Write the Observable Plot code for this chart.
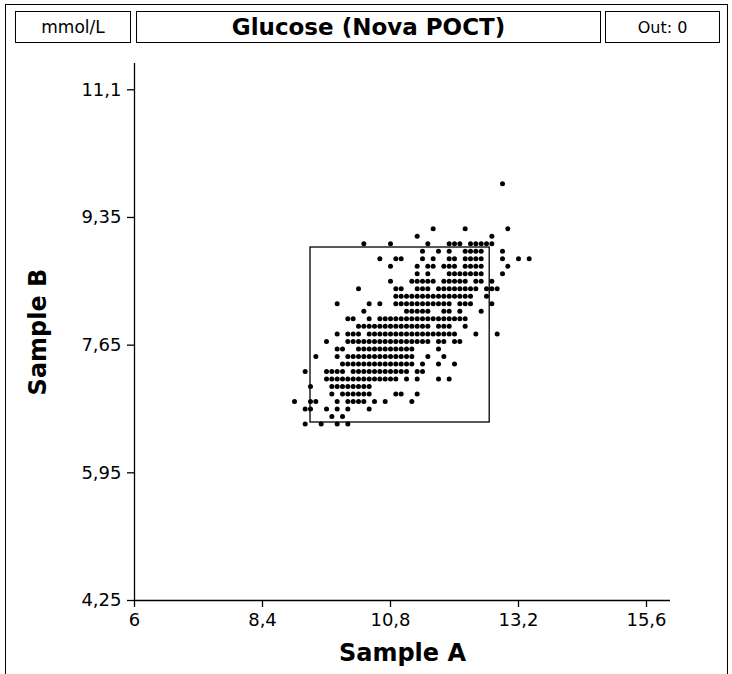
<!DOCTYPE html>
<html><head><meta charset="utf-8">
<script src="https://cdn.jsdelivr.net/npm/d3@7"></script>
<script src="https://cdn.jsdelivr.net/npm/@observablehq/plot@0.6"></script>
<style>
body{margin:0;background:#fff;font-family:"DejaVu Sans",sans-serif;}
#wrap{position:relative;width:732px;height:674px;overflow:hidden;background:#fff;}
#frame{position:absolute;left:5px;top:4px;width:721px;height:720px;border:1px solid #000;border-bottom:none;}
.box{position:absolute;top:11px;height:32px;border:1px solid #000;display:flex;align-items:center;justify-content:center;box-sizing:border-box;background:#fff;color:#000;}
#chart{position:absolute;left:0;top:0;}
</style></head><body>
<div id="wrap">
<div id="frame"></div>
<div class="box" style="left:15px;width:116px;font-size:17px">mmol/L</div>
<div class="box" style="left:136px;width:465px;font-size:23px;font-weight:bold">Glucose (Nova POCT)</div>
<div class="box" style="left:605px;width:115px;font-size:16px">Out: 0</div>
<div id="chart"></div>
</div>
<script>
// Tick values and labels
const xTicks = [6, 8.4, 10.8, 13.2, 15.6];
const xTickLabels = ["6", "8,4", "10,8", "13,2", "15,6"];
const yTicks = [4.25, 5.95, 7.65, 9.35, 11.05];
const yTickLabels = ["4,25", "5,95", "7,65", "9,35", "11,1"];

// Sample B value of each row of points
const rowY = [9.8, 9.2, 9.1, 9.0, 8.9, 8.8, 8.7, 8.6, 8.5, 8.4, 8.3, 8.2, 8.1, 8.0,
              7.9, 7.8, 7.7, 7.6, 7.5, 7.4, 7.3, 7.2, 7.1, 7.0, 6.9, 6.8, 6.7, 6.6];
// Sample A values in each row
const rowX = [
  [12.9],
  [11.6, 12.2, 13.0],
  [11.3, 12.7],
  [10.3, 10.8, 11.5, 11.9, 12.0, 12.1, 12.3, 12.4, 12.5, 12.6, 12.7],
  [11.4, 11.7, 11.9, 12.2, 12.3, 12.4, 12.5, 12.9],
  [10.6, 10.9, 11.0, 11.4, 11.6, 11.9, 12.0, 12.2, 12.3, 12.4, 12.5, 12.9, 13.2, 13.4],
  [10.8, 11.3, 11.5, 11.6, 11.8, 11.9, 12.0, 12.2, 12.3, 12.4, 12.5, 13.0],
  [11.3, 11.5, 11.9, 12.0, 12.1, 12.2, 12.3, 12.4, 12.5, 12.9],
  [10.8, 11.2, 11.3, 11.4, 11.5, 11.6, 11.8, 11.9, 12.0, 12.1, 12.2, 12.4, 12.5, 12.7],
  [10.2, 10.9, 11.0, 11.3, 11.4, 11.5, 11.7, 11.8, 11.9, 12.0, 12.1, 12.2, 12.3, 12.4, 12.6, 12.7, 12.8],
  [10.9, 11.0, 11.1, 11.2, 11.3, 11.4, 11.5, 11.6, 11.7, 11.8, 11.9, 12.0, 12.1, 12.2, 12.3, 12.6],
  [9.8, 10.4, 10.6, 10.9, 11.0, 11.1, 11.2, 11.3, 11.4, 11.5, 11.6, 11.7, 11.8, 11.9, 12.1, 12.2, 12.3, 12.7],
  [10.3, 11.1, 11.2, 11.3, 11.4, 11.5, 11.8, 11.9, 12.1, 12.5],
  [10.0, 10.1, 10.4, 10.6, 10.7, 10.8, 10.9, 11.0, 11.1, 11.2, 11.3, 11.4, 11.5, 11.6, 11.7, 11.8, 11.9, 12.0, 12.1, 12.2],
  [10.2, 10.3, 10.4, 10.5, 10.6, 10.7, 10.8, 10.9, 11.0, 11.1, 11.2, 11.3, 11.4, 11.5, 11.7, 11.8, 11.9, 12.2],
  [9.8, 10.0, 10.1, 10.2, 10.4, 10.5, 10.6, 10.7, 10.8, 10.9, 11.0, 11.1, 11.2, 11.3, 11.4, 11.5, 11.6, 11.7, 11.8, 11.9, 12.0, 12.4, 12.8],
  [9.6, 10.0, 10.1, 10.2, 10.3, 10.4, 10.5, 10.6, 10.7, 10.8, 10.9, 11.0, 11.1, 11.2, 11.3, 11.4, 11.5, 11.7, 11.8, 12.0, 12.1],
  [9.8, 9.9, 10.2, 10.3, 10.4, 10.5, 10.6, 10.7, 10.8, 10.9, 11.0, 11.1, 11.2, 11.7],
  [9.4, 9.8, 10.0, 10.1, 10.2, 10.3, 10.4, 10.5, 10.6, 10.7, 10.8, 10.9, 11.0, 11.1, 11.2, 11.5, 11.8],
  [9.9, 10.0, 10.1, 10.2, 10.3, 10.4, 10.5, 10.6, 10.7, 10.8, 10.9, 11.0, 11.1, 11.2, 11.4, 11.7, 12.0],
  [9.2, 9.6, 9.7, 9.8, 9.9, 10.1, 10.2, 10.3, 10.4, 10.5, 10.6, 10.7, 10.8, 10.9, 11.0, 11.1, 11.3, 11.4],
  [9.6, 9.7, 9.8, 9.9, 10.0, 10.1, 10.2, 10.3, 10.4, 10.5, 10.6, 10.7, 10.8, 10.9, 11.1, 11.3, 11.7, 11.9],
  [9.3, 9.7, 9.8, 9.9, 10.0, 10.1, 10.2, 10.3, 10.4],
  [9.7, 9.9, 10.0, 10.1, 10.2, 10.3, 10.4, 10.9, 11.0, 11.3],
  [9.0, 9.3, 9.4, 9.8, 10.0, 10.1, 10.2, 10.3, 10.5, 10.7, 11.2],
  [9.2, 9.3, 9.6, 9.8, 10.0, 10.4],
  [9.7, 9.9],
  [9.2, 9.5, 9.8, 10.0]
];
// Reference box (Sample A range, Sample B range)
const boxX = [9.3, 12.66];
const boxY = [6.62, 8.95];

const points = rowY.flatMap((y, i) => rowX[i].map(x => ({x, y})));
const xLab = new Map(xTicks.map((t, i) => [t, xTickLabels[i]]));
const yLab = new Map(yTicks.map((t, i) => [t, yTickLabels[i]]));

const chart = Plot.plot({
  width: 732,
  height: 674,
  marginLeft: 134,
  marginRight: 62,
  marginTop: 63,
  marginBottom: 74,
  style: {fontFamily: "DejaVu Sans", fontSize: "18px", background: "transparent", color: "#000"},
  x: {domain: [6, 16.05]},
  y: {domain: [4.25, 11.4]},
  marks: [
    Plot.axisX({ticks: xTicks, tickFormat: d => xLab.get(d), tickSize: 7, tickPadding: 6, label: null, fontSize: 18, stroke: "#000", strokeWidth: 1.3}),
    Plot.axisY({ticks: yTicks, tickFormat: d => yLab.get(d), tickSize: 7, tickPadding: 6, label: null, fontSize: 18, stroke: "#000", strokeWidth: 1.3}),
    Plot.ruleX([6], {y1: 4.25, y2: 11.4, stroke: "#000", strokeWidth: 1.3}),
    Plot.ruleY([4.25], {x1: 6, x2: 16.05, stroke: "#000", strokeWidth: 1.3}),
    Plot.rect([{}], {x1: boxX[0], x2: boxX[1], y1: boxY[0], y2: boxY[1], fill: "none", stroke: "#000", strokeWidth: 1.3}),
    Plot.dot(points, {x: "x", y: "y", r: 2.5, fill: "#000", stroke: "none"}),
    Plot.text(["Sample A"], {frameAnchor: "bottom", dy: 60, fontSize: 24, fontWeight: "bold"}),
    Plot.text(["Sample B"], {frameAnchor: "left", textAnchor: "middle", dx: -96, rotate: -90, fontSize: 24, fontWeight: "bold"})
  ]
});
document.getElementById("chart").appendChild(chart);
</script>
</body></html>
